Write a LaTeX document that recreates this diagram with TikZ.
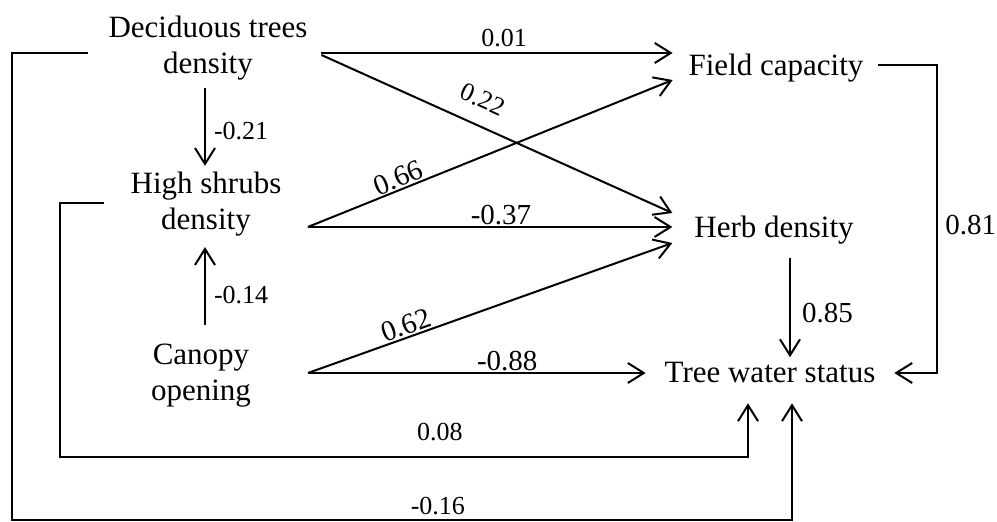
\documentclass[tikz,border=0pt]{standalone}
\usepackage{fontspec}
\setmainfont{Liberation Serif}
\usepackage{tikz}
\usetikzlibrary{calc, arrows.meta}

\begin{document}
\begin{tikzpicture}[
    x=0.5pt, y=-0.5pt,
    var/.style={font=\fontsize{15.5}{18}\selectfont, align=center,
      inner sep=0pt, outer sep=0pt},
    link/.style={line width=1pt, -{Straight Barb[length=8pt, width=10pt]}},
    coef/.style={font=\fontsize{14.5}{17}\selectfont, inner sep=0.5pt},
    weak/.style={font=\fontsize{13}{15}\selectfont, inner sep=1pt},
  ]
    \useasboundingbox (0,0) rectangle (997,522);

    \node[var] (dtd) at (208,48) {Deciduous trees\\density};
    \node[var] (hsd) at (206,204) {High shrubs\\density};
    \node[var] (cop) at (201,376) {Canopy\\opening};
    \node[var] (fcap) at (776,68) {Field capacity};
    \node[var] (herb) at (774,230) {Herb density};
    \node[var] (tws) at (770,373) {Tree water status};

    \draw[link] ($(dtd.east)+(14,5)$) -- node[weak, above=1.5pt, pos=0.52] {0.01} ($(fcap.west)+(-16,-15)$);
    \draw[link] ($(dtd.east)+(14,7)$) -- node[weak, sloped, above=7pt, pos=0.43] {0.22} ($(herb.west)+(-22,-17)$);
    \draw[link] ($(hsd.east)+(26.5,23)$) -- node[coef, sloped, above=0pt, pos=0.26] {0.66} ($(fcap.west)+(-16,12)$);
    \draw[link] ($(hsd.east)+(26.5,23)$) -- node[coef, above=0pt, pos=0.53] {-0.37} ($(herb.west)+(-22,-3)$);
    \draw[link] ($(cop.east)+(57,-3)$) -- node[coef, sloped, above=0pt, pos=0.28] {0.62} ($(herb.west)+(-22,13)$);
    \draw[link] ($(cop.east)+(57,-3)$) -- node[coef, above=0pt, pos=0.59] {-0.88} ($(tws.west)+(-19,0)$);

    \draw[link] ($(dtd.south)+(-3,8)$) -- node[weak, right=3pt, pos=0.55] {-0.21} ($(hsd.north)+(-1,-6)$);
    \draw[link] ($(cop.north)+(4,-19)$) -- node[weak, right=3pt, pos=0.39] {-0.14} ($(hsd.south)+(-1,11)$);
    \draw[link] ($(herb.south)+(16,14)$) -- node[coef, right=5pt, pos=0.55] {0.85} ($(tws.north)+(20,-5.5)$);

    \draw[link] ($(fcap.east)+(14.5,-3)$) -| node[coef, right=3pt, pos=0.76] {0.81} ($(tws.east)+(62,0)$) -- ($(tws.east)+(19,0)$);
    \draw[link] ($(hsd.west)+(-26.5,-1)$) -- ++(-44,0) |- node[weak, above=6.5pt, pos=0.776] {0.08} ($(tws.south)+(-22,74)$) -- ($(tws.south)+(-22,20)$);
    \draw[link] ($(dtd.west)+(-20.5,5)$) -- ++(-76,0) |- node[weak, above=1pt, pos=0.773] {-0.16} ($(tws.south)+(22,137)$) -- ($(tws.south)+(22,20)$);
  \end{tikzpicture}
\end{document}
